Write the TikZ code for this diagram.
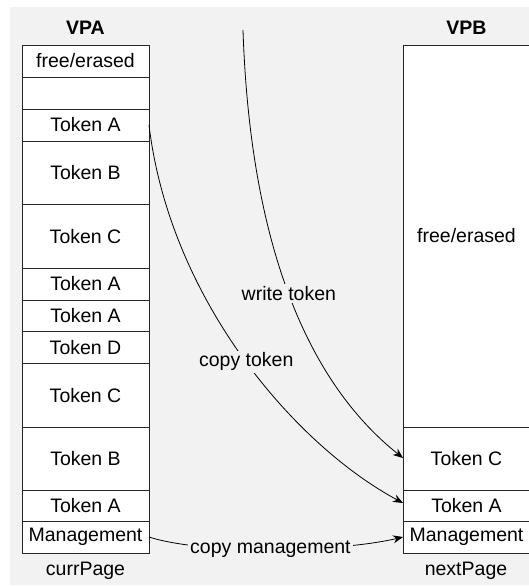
\documentclass[tikz,border=0pt]{standalone}
\usepackage{fontspec}
\setmainfont{Liberation Sans}
\usetikzlibrary{arrows.meta}
\definecolor{panel}{HTML}{F2F2F2}
\begin{document}
\begin{tikzpicture}[x=1pt,y=-1pt,
  cell/.style={draw=black!85, line width=1pt, fill=white},
  lbl/.style={font=\fontsize{19.5}{23}\selectfont, inner sep=1pt},
  ttl/.style={font=\fontsize{19.5}{23}\selectfont\bfseries},
  link/.style={line width=0.8pt, -{Stealth[length=10pt,width=8pt]}},
  tag/.style={font=\fontsize{19.5}{23}\selectfont, fill=panel, inner sep=2pt}]
\useasboundingbox (0,0) rectangle (529,587);
\fill[panel] (10,7) rectangle (529,585);

% page headings
\node[ttl] (vpa) at (85.5,28) {VPA};
\node[ttl] (vpb) at (466.5,28) {VPB};

% currPage cells (left column)
\def\L{22}\def\R{149}
\foreach \name/\top/\bot/\txt in {
  a1/45/77/{free/erased},
  a2/77/109/{},
  a3/109/141/{Token A},
  a4/141/204.5/{Token B},
  a5/204.5/268/{Token C},
  a6/268/300/{Token A},
  a7/300/331.5/{Token A},
  a8/331.5/363.5/{Token D},
  a9/363.5/427/{Token C},
  a10/427/490/{Token B},
  a11/490/521.5/{Token A},
  a12/521.5/553/{Management}}{
  \draw[cell] (\L,\top) rectangle (\R,\bot);
  \node[lbl] (\name) at ({(\L+\R)/2},{(\top+\bot)/2}) {\txt};
}
\node[lbl] (curr) at (85.5,571) {currPage};

% nextPage cells (right column)
\def\LL{403}\def\RR{530}
\foreach \name/\top/\bot/\txt in {
  b1/45/427/{free/erased},
  b2/427/490/{Token C},
  b3/490/521.5/{Token A},
  b4/521.5/553/{Management}}{
  \draw[cell] (\LL,\top) rectangle (\RR,\bot);
  \node[lbl] (\name) at ({(\LL+\RR)/2},{(\top+\bot)/2}) {\txt};
}
\node[lbl] (next) at (466,571) {nextPage};

% anchor points on the cell edges
\coordinate (src) at (243,30);
\coordinate (aTokA) at (\R,125);
\coordinate (aMgmt) at (\R,537);
\coordinate (bTokC) at (\LL,458);
\coordinate (bTokA) at (\LL,503);
\coordinate (bMgmt) at (\LL,537);

% transfers between the pages
\draw[link] (src) .. controls (250,240) and (305,380) .. (bTokC)
  node[tag, pos=0.5] (wlbl) {write token};
\draw[link] (aTokA) .. controls (170,300) and (295,445) .. (bTokA)
  node[tag, pos=0.51] (clbl) {copy token};
\draw[link] (aMgmt) .. controls (205,555) and (340,552) .. (bMgmt)
  node[tag, pos=0.49] (mlbl) {copy management};
\end{tikzpicture}
\end{document}
